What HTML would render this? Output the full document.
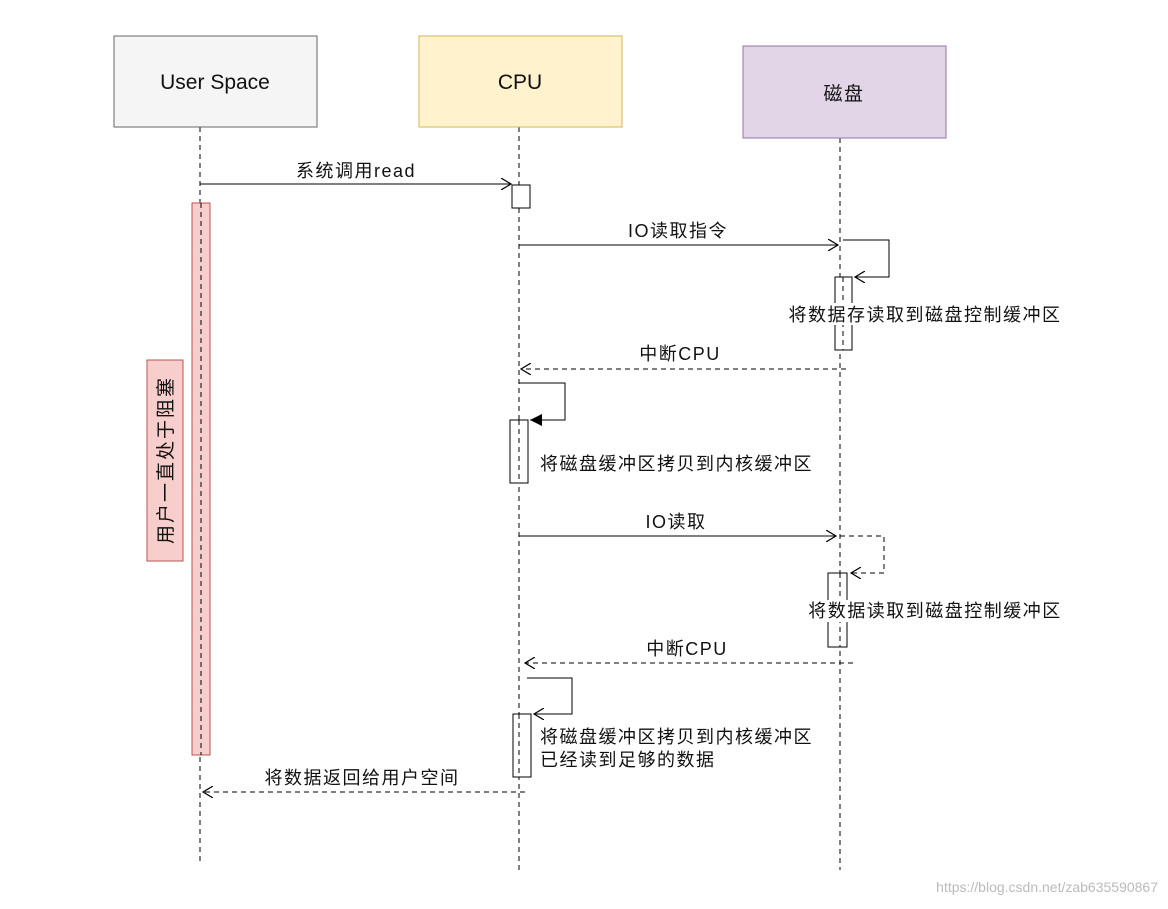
<!DOCTYPE html>
<html><head><meta charset="utf-8"><style>
html,body{margin:0;padding:0;background:#fff;}
text{font-family:"Liberation Sans","Noto Sans CJK SC",sans-serif;font-size:18px;letter-spacing:1.5px;fill:#111;}
</style></head><body>
<svg width="1168" height="904" xmlns="http://www.w3.org/2000/svg">
<defs>
<marker id="o" markerWidth="12" markerHeight="12" refX="10" refY="6" orient="auto" markerUnits="userSpaceOnUse"><path d="M0,0 L10,6 L0,12" fill="none" stroke="#000" stroke-width="1.2"/></marker>
<marker id="f" markerWidth="14" markerHeight="12" refX="12" refY="6" orient="auto" markerUnits="userSpaceOnUse"><path d="M0,0 L12,6 L0,12 Z" fill="#000"/></marker>
</defs>
<g stroke="#000" stroke-dasharray="5,4" fill="none">
<line x1="200" y1="127" x2="200" y2="865"/>
<line x1="519" y1="127" x2="519" y2="870"/>
<line x1="840" y1="138" x2="840" y2="870"/>
</g>
<rect x="114" y="36" width="203" height="91" fill="#f5f5f5" stroke="#666"/>
<text x="215" y="89" text-anchor="middle" style="font-size:21px;letter-spacing:0">User Space</text>
<rect x="419" y="36" width="203" height="91" fill="#fff2cc" stroke="#d6b656"/>
<text x="520" y="89" text-anchor="middle" style="font-size:21px;letter-spacing:0">CPU</text>
<rect x="743" y="46" width="203" height="92" fill="#e1d5e7" stroke="#9673a6"/>
<text x="844" y="100" text-anchor="middle" style="font-size:19px">磁盘</text>

<rect x="192" y="203" width="18" height="552" fill="#f8cecc" stroke="#b85450"/>
<line x1="201" y1="203" x2="201" y2="755" stroke="#000" stroke-dasharray="5,4"/>
<rect x="147" y="360" width="36" height="201" fill="#f8cecc" stroke="#b85450"/>
<text transform="translate(172,460) rotate(-90)" text-anchor="middle" style="font-size:19px;letter-spacing:2px">用户一直处于阻塞</text>

<rect x="512" y="185" width="18" height="23" fill="#fff" stroke="#000"/>
<line x1="200" y1="184" x2="511" y2="184" stroke="#000" marker-end="url(#o)"/>
<text x="356" y="177" text-anchor="middle">系统调用read</text>

<line x1="519" y1="245" x2="838" y2="245" stroke="#000" marker-end="url(#o)"/>
<text x="678" y="237" text-anchor="middle">IO读取指令</text>
<rect x="835" y="277" width="17" height="73" fill="#fff" stroke="#000"/>
<line x1="843" y1="277" x2="843" y2="350" stroke="#000" stroke-dasharray="5,4"/>
<path d="M843,240 H889 V277 H855" fill="none" stroke="#000" marker-end="url(#o)"/>
<rect x="782" y="303" width="288" height="22" fill="#fff"/>
<text x="925" y="321" text-anchor="middle">将数据存读取到磁盘控制缓冲区</text>

<line x1="846" y1="369" x2="521" y2="369" stroke="#000" stroke-dasharray="5,4" marker-end="url(#o)"/>
<text x="680" y="360" text-anchor="middle">中断CPU</text>

<rect x="510" y="420" width="18" height="63" fill="#fff" stroke="#000"/>
<line x1="519" y1="420" x2="519" y2="483" stroke="#000" stroke-dasharray="5,4"/>
<path d="M519,383 H565 V420 H530" fill="none" stroke="#000" marker-end="url(#f)"/>
<text x="540" y="470">将磁盘缓冲区拷贝到内核缓冲区</text>

<line x1="519" y1="536" x2="836" y2="536" stroke="#000" marker-end="url(#o)"/>
<text x="676" y="528" text-anchor="middle">IO读取</text>
<rect x="828" y="573" width="19" height="74" fill="#fff" stroke="#000"/>
<line x1="840" y1="573" x2="840" y2="647" stroke="#000" stroke-dasharray="5,4"/>
<path d="M840,536 H884 V573 H851" fill="none" stroke="#000" stroke-dasharray="5,4" marker-end="url(#o)"/>
<rect x="804" y="600" width="264" height="22" fill="#fff"/>
<text x="935" y="617" text-anchor="middle">将数据读取到磁盘控制缓冲区</text>

<line x1="853" y1="663" x2="525" y2="663" stroke="#000" stroke-dasharray="5,4" marker-end="url(#o)"/>
<text x="687" y="655" text-anchor="middle">中断CPU</text>

<rect x="513" y="714" width="18" height="63" fill="#fff" stroke="#000"/>
<line x1="519" y1="714" x2="519" y2="777" stroke="#000" stroke-dasharray="5,4"/>
<path d="M527,678 H572 V714 H534" fill="none" stroke="#000" marker-end="url(#o)"/>
<text x="540" y="743">将磁盘缓冲区拷贝到内核缓冲区</text>
<text x="540" y="766">已经读到足够的数据</text>

<line x1="525" y1="792" x2="203" y2="792" stroke="#000" stroke-dasharray="5,4" marker-end="url(#o)"/>
<text x="362" y="784" text-anchor="middle">将数据返回给用户空间</text>

<text x="1158" y="892" text-anchor="end" style="font-size:14px;letter-spacing:0;fill:#bbb">https://blog.csdn.net/zab635590867</text>
</svg>
</body></html>
